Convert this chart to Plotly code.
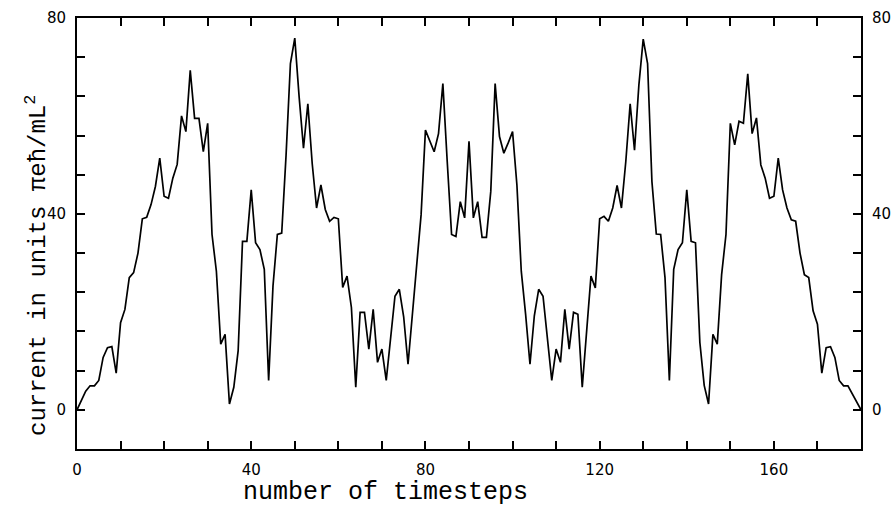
import plotly.graph_objects as go

timesteps = list(range(0, 181))
current = [
    0, 1.8, 3.8, 4.9, 4.9, 6.0, 10.7, 12.7, 12.9, 7.5,
    17.8, 20.5, 27.0, 28.0, 32.0, 39.0, 39.3, 41.9, 45.6, 51.4,
    43.6, 43.2, 47.3, 50.1, 60.0, 56.8, 69.3, 59.5, 59.5, 52.7,
    58.5, 35.8, 28.3, 13.4, 15.4, 1.2, 4.6, 12.1, 34.4, 34.4,
    44.9, 34.1, 32.7, 28.7, 6.0, 25.3, 35.8, 36.1, 52.0, 70.7,
    75.9, 63.9, 53.4, 62.5, 50.3, 41.2, 45.9, 40.9, 38.5, 39.3,
    39.0, 25.0, 27.3, 20.9, 4.6, 19.9, 19.9, 12.4, 20.5, 9.7,
    12.4, 6.0, 14.6, 23.2, 24.6, 19.0, 9.3, 19.5, 28.3, 39.8,
    57.1, 55.0, 52.7, 56.4, 66.6, 50.7, 35.8, 35.4, 42.5, 39.2,
    54.8, 39.2, 42.5, 35.2, 35.2, 44.6, 66.6, 55.8, 52.4, 54.5,
    56.8, 45.9, 28.3, 19.5, 9.3, 19.2, 24.6, 23.2, 14.5, 6.0,
    12.4, 9.7, 20.5, 12.4, 19.9, 19.5, 4.6, 15.4, 27.3, 24.9,
    39.0, 39.5, 38.5, 41.2, 45.8, 41.2, 50.7, 62.5, 53.0, 66.3,
    75.7, 70.7, 46.6, 35.9, 35.8, 27.0, 6.0, 28.7, 32.7, 34.1,
    44.9, 34.4, 34.1, 13.8, 5.0, 1.2, 15.4, 13.4, 27.6, 35.8,
    58.5, 54.1, 58.9, 58.5, 68.6, 56.4, 59.6, 50.0, 47.3, 43.2,
    43.6, 51.4, 44.9, 41.2, 38.8, 38.5, 32.0, 27.6, 27.0, 20.2,
    17.5, 7.5, 12.7, 12.9, 10.7, 6.0, 4.9, 4.9, 3.3, 1.6,
    0,
]

x_tick_values = [0, 40, 80, 120, 160]
x_tick_labels = ["0", "40", "80", "120", "160"]
y_tick_values = [0, 40, 80]
y_tick_labels = ["0", "40", "80"]

x_title = "number of timesteps"
y_title = "current in units \u03c0e\u0127/mL<sup>2</sup>"

X_RANGE = [0, 180]
Y_RANGE = [-8, 80]

tick_font = dict(family="DejaVu Sans", size=15, color="black")
title_font = dict(family="Liberation Mono", size=25, color="black")
ytitle_font = dict(family="Liberation Mono", size=24, color="black")

fig = go.Figure()
fig.add_trace(go.Scatter(
    x=timesteps, y=current, mode="lines",
    line=dict(color="black", width=1.7),
    showlegend=False, hoverinfo="skip",
))
# invisible trace to activate right-hand axis
fig.add_trace(go.Scatter(x=[0], y=[0], yaxis="y2", mode="markers",
                         marker=dict(opacity=0), showlegend=False, hoverinfo="skip"))

fig.update_layout(
    width=894, height=511,
    margin=dict(l=77, r=33, t=18, b=62, autoexpand=False),
    paper_bgcolor="white", plot_bgcolor="white",
    xaxis=dict(
        range=X_RANGE, tickmode="array", tickvals=x_tick_values, ticktext=x_tick_labels,
        ticks="inside", ticklen=8, tickwidth=1.5, tickcolor="black",
        showline=True, linecolor="black", linewidth=2, mirror="ticks",
        showgrid=False, zeroline=False, tickfont=tick_font, ticklabelstandoff=6,
        automargin=False,
        minor=dict(dtick=10, tick0=0, ticks="inside", ticklen=8, tickwidth=1.5,
                   tickcolor="black", showgrid=False),
    ),
    yaxis=dict(
        range=Y_RANGE, tickmode="array", tickvals=y_tick_values, ticktext=y_tick_labels,
        ticks="inside", ticklen=8, tickwidth=1.5, tickcolor="black",
        showline=True, linecolor="black", linewidth=2, mirror=False,
        showgrid=False, zeroline=False, tickfont=tick_font, ticklabelstandoff=6,
        automargin=False,
        minor=dict(dtick=8, tick0=0, ticks="inside", ticklen=8, tickwidth=1.5,
                   tickcolor="black", showgrid=False),
    ),
    yaxis2=dict(
        range=Y_RANGE, overlaying="y", side="right",
        tickmode="array", tickvals=y_tick_values, ticktext=y_tick_labels,
        ticks="inside", ticklen=8, tickwidth=1.5, tickcolor="black",
        showline=True, linecolor="black", linewidth=2,
        showgrid=False, zeroline=False, tickfont=tick_font, ticklabelstandoff=6,
        automargin=False,
        minor=dict(dtick=8, tick0=0, ticks="inside", ticklen=8, tickwidth=1.5,
                   tickcolor="black", showgrid=False),
    ),
    annotations=[
        dict(text=x_title, xref="paper", yref="paper", x=0.393, y=-0.102,
             xanchor="center", yanchor="middle", showarrow=False, font=title_font),
        dict(text=y_title, xref="paper", yref="paper", x=-0.051, y=0.4246,
             xanchor="center", yanchor="middle", showarrow=False, font=ytitle_font,
             textangle=-90),
    ],
)

fig.write_html("out.html")
